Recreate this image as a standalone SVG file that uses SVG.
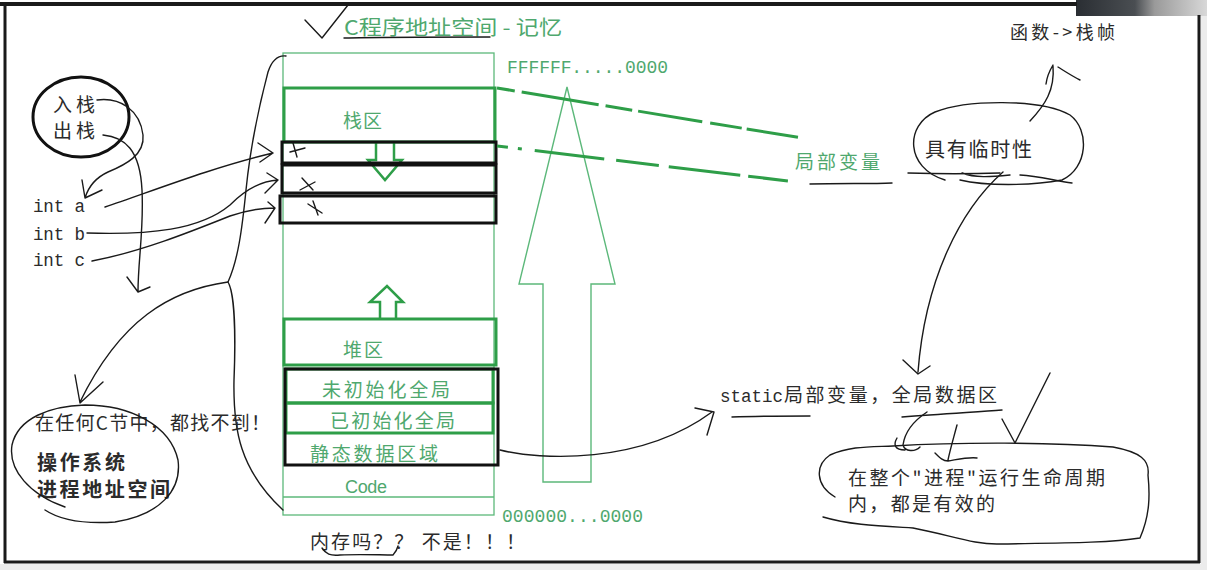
<svg xmlns="http://www.w3.org/2000/svg" width="1207" height="570" viewBox="0 0 1207 570">
<defs>
<linearGradient id="photo" x1="0" y1="0" x2="1" y2="0">
<stop offset="0" stop-color="#2a2e33"/><stop offset="0.45" stop-color="#4a4e52"/><stop offset="0.6" stop-color="#9a9a9a"/><stop offset="1" stop-color="#d8d8d8"/>
</linearGradient>
</defs>
<style>
.gt{fill:#4fa86e;font-family:"Noto Sans CJK SC","Noto Sans",sans-serif;}
.gm{fill:#4fa86e;font-family:"Liberation Mono",monospace;font-size:18px;}
.bt{fill:#2b2b2b;font-family:"Noto Sans CJK SC","Noto Sans",sans-serif;}
.bm{fill:#2b2b2b;font-family:"Liberation Mono",monospace;font-size:17.5px;}
.thin{fill:none;stroke:#5cb87a;stroke-width:1.3;}
.thick{fill:none;stroke:#2e9e48;stroke-width:3;}
.blk{fill:none;stroke:#111;stroke-width:3;}
.hand{fill:none;stroke:#1a1a1a;stroke-width:1.4;stroke-linecap:round;stroke-linejoin:round;}
.dash{fill:none;stroke:#2e9e48;stroke-width:3;}
</style>
<rect x="0" y="0" width="1207" height="570" fill="#ffffff"/>
<g id="frame">
<rect x="1201" y="14" width="6" height="556" fill="#ececec"/>
<rect x="0" y="564" width="1207" height="6" fill="#ececec"/>
<rect x="1076" y="0" width="131" height="16" fill="url(#photo)"/>
<line x1="0" y1="4" x2="1077" y2="4" stroke="#1a1a1a" stroke-width="4"/>
<line x1="5" y1="4" x2="5" y2="563" stroke="#1a1a1a" stroke-width="3"/>
<line x1="1199" y1="15" x2="1199" y2="563" stroke="#1a1a1a" stroke-width="3"/>
<line x1="4" y1="562" x2="1200" y2="562" stroke="#1a1a1a" stroke-width="3"/>
</g>
<g id="title">
<text class="gt" x="344" y="35" font-size="20" textLength="218" lengthAdjust="spacingAndGlyphs">C程序地址空间 - 记忆</text>
<path class="hand" d="M344 38 C380 37,440 37,490 37"/>
<path class="hand" d="M305 20 L322 38 L348 5"/>
</g>
<g id="memory-column">
<rect class="thin" x="283" y="53" width="211" height="462"/>
<line class="thin" x1="283" y1="497" x2="494" y2="497"/>
<rect class="thick" x="284" y="88" width="211" height="54"/>
<text class="gt" x="343" y="128" font-size="19" textLength="39">栈区</text>
<rect class="thick" x="284" y="319" width="212" height="46"/>
<text class="gt" x="343" y="357" font-size="19" textLength="40">堆区</text>
<rect class="thick" x="286" y="369" width="207" height="34"/>
<rect class="thick" x="286" y="403" width="207" height="30"/>
<text class="gt" x="322" y="397" font-size="19" textLength="128">未初始化全局</text>
<text class="gt" x="330" y="428" font-size="19" textLength="125">已初始化全局</text>
<text class="gt" x="310" y="461" font-size="19" textLength="128">静态数据区域</text>
<text x="345" y="493" font-size="18" fill="#4fa86e" font-family="Liberation Sans,Arial,sans-serif" textLength="42">Code</text>
<path d="M376 142 L376 160 L368 160 L385 180 L402 160 L394 160 L394 142" fill="none" stroke="#2e9e48" stroke-width="2.5"/>
<path d="M380 318 L380 302 L370 302 L387 286 L403 302 L396 302 L396 318" fill="none" stroke="#2e9e48" stroke-width="2.5"/>
</g>
<g id="stack-vars">
<rect class="blk" x="282" y="142" width="214" height="21"/>
<rect class="blk" x="282" y="165" width="214" height="28"/>
<rect class="blk" x="280" y="196" width="216" height="27"/>
<rect class="blk" x="285" y="369" width="213" height="96"/>
<path class="hand" d="M293 143 L297 157 M290 152 L305 148"/>
<path class="hand" d="M302 178 L313 190 M300 190 L315 182"/>
<path class="hand" d="M308 204 L322 213 M313 201 L318 215"/>
</g>
<g id="addresses">
<text class="gm" x="507" y="73" textLength="161">FFFFFF.....0000</text>
<text class="gm" x="502" y="522" textLength="141">000000...0000</text>
<path d="M543 482 L543 284 L519 284 L567 87 L615 284 L591 284 L591 482 Z" fill="none" stroke="#5cb87a" stroke-width="1.4"/>
</g>
<g id="local-vars">
<path class="dash" d="M497 88 L802 138" stroke-dasharray="18 7 78 7 27 6 65 8 32 5 52"/>
<path class="dash" d="M497 146 L788 181" stroke-dasharray="11 10 4 13 70 12 43 10 72 8 40"/>
<text class="gt" x="795" y="169" font-size="19" textLength="85">局部变量</text>
<path class="hand" d="M810 184 C840 183,870 184,892 183"/>
</g>
<g id="temporary">
<text class="bt" x="925" y="157" font-size="20" textLength="107">具有临时性</text>
<path class="hand" d="M945 180 C905 168,905 125,935 112 C965 100,1040 98,1070 115 C1090 130,1088 168,1062 180 C1030 186,985 186,960 180"/>
<path class="hand" d="M908 173 C940 174,970 174,1000 173 M962 173 C975 178,990 177,1010 175 M1020 175 C1040 176,1055 181,1072 183"/>
<path class="hand" d="M1030 121 C1045 105,1055 90,1053 66 M1046 84 C1047 76,1050 70,1053 65 M1058 67 C1066 72,1072 76,1080 80"/>
<text class="bt" x="1010" y="39" font-size="18" textLength="105">函数->栈帧</text>
</g>
<g id="static">
<text class="bm" x="720" y="402" textLength="63">static</text>
<text class="bt" x="784" y="402" font-size="19" textLength="213">局部变量，全局数据区</text>
<path class="hand" d="M732 417 C760 416,790 416,810 416"/>
<path class="hand" d="M902 417 C940 414,975 412,1002 410"/>
<path class="hand" d="M1003 172 C960 210,925 280,918 372 M903 360 L918 374 L930 366"/>
<path class="hand" d="M500 450 C540 460,640 465,712 412 M695 408 L714 412 L707 435"/>
<path class="hand" d="M927 412 C915 420,905 430,903 445 C905 452,915 452,920 447 M897 438 C893 445,895 450,905 450"/>
<path class="hand" d="M957 425 C953 440,950 450,948 460 M935 453 C940 458,943 461,948 461 C960 459,968 457,977 458"/>
<path class="hand" d="M1002 419 L1015 443 L1050 373"/>
</g>
<g id="process-lifetime">
<path class="hand" d="M835 497 C815 485,815 465,830 455 C850 446,870 447,893 446 C960 442,1050 442,1113 447 C1140 452,1150 460,1148 475 C1150 495,1150 515,1140 538 M823 517 C850 525,880 526,913 528 C950 535,975 545,1000 544 C1060 543,1110 543,1140 538"/>
<text class="bt" x="848" y="485" font-size="19" textLength="257">在整个"进程"运行生命周期</text>
<text class="bt" x="848" y="511" font-size="19" textLength="147">内，都是有效的</text>
</g>
<g id="push-pop">
<ellipse cx="81" cy="117" rx="48" ry="40" fill="none" stroke="#111" stroke-width="3"/>
<text class="bt" x="53" y="112" font-size="19" textLength="42">入栈</text>
<text class="bt" x="53" y="138" font-size="19" textLength="42">出栈</text>
<path class="hand" d="M97 100 C120 97,140 110,143 135 C145 155,125 165,108 172 C95 178,88 188,85 198 M82 180 L85 198 L102 190"/>
<path class="hand" d="M103 135 C125 137,140 150,142 190 C144 230,138 260,138 292 M127 277 L138 292 L150 287"/>
</g>
<g id="int-vars">
<text class="bm" x="33" y="212" textLength="52">int a</text>
<text class="bm" x="33" y="240" textLength="52">int b</text>
<text class="bm" x="33" y="266" textLength="52">int c</text>
<path class="hand" d="M105 207 C150 192,210 168,273 153 M258 143 L273 153 L260 162"/>
<path class="hand" d="M87 233 C150 235,200 230,230 205 C245 190,260 181,278 180 M267 173 L278 180 L265 193"/>
<path class="hand" d="M92 261 C140 252,190 232,230 216 C250 209,262 208,275 208 M268 202 L275 208 L265 223"/>
</g>
<g id="process-space">
<path class="hand" d="M286 56 C278 55,272 60,268 72 C258 110,250 150,246 190 C242 230,238 260,228 282 C234 292,236 330,234 380 C233 430,240 470,283 510"/>
<path class="hand" d="M228 282 C170 290,120 320,80 402 M75 375 L80 403 L103 382"/>
<text class="bt" x="35" y="430" font-size="19" textLength="235">在任何C节中，都找不到！</text>
<text class="bt" x="37" y="470" font-size="20" font-weight="bold" textLength="88">操作系统</text>
<text class="bt" x="37" y="497" font-size="20" font-weight="bold" textLength="133">进程地址空间</text>
<path class="hand" d="M65 507 C30 495,8 470,12 445 C18 418,50 406,85 405 C130 405,170 425,178 460 C182 490,160 515,115 522 C85 524,60 520,45 510"/>
</g>
<g id="memory-question">
<text class="bt" x="310" y="549" font-size="19" textLength="215">内存吗？？ 不是！！！</text>
<path class="hand" d="M322 548 C326 554,330 556,340 555 C360 554,380 555,393 555 C396 552,397 550,398 546"/>
</g>
</svg>
